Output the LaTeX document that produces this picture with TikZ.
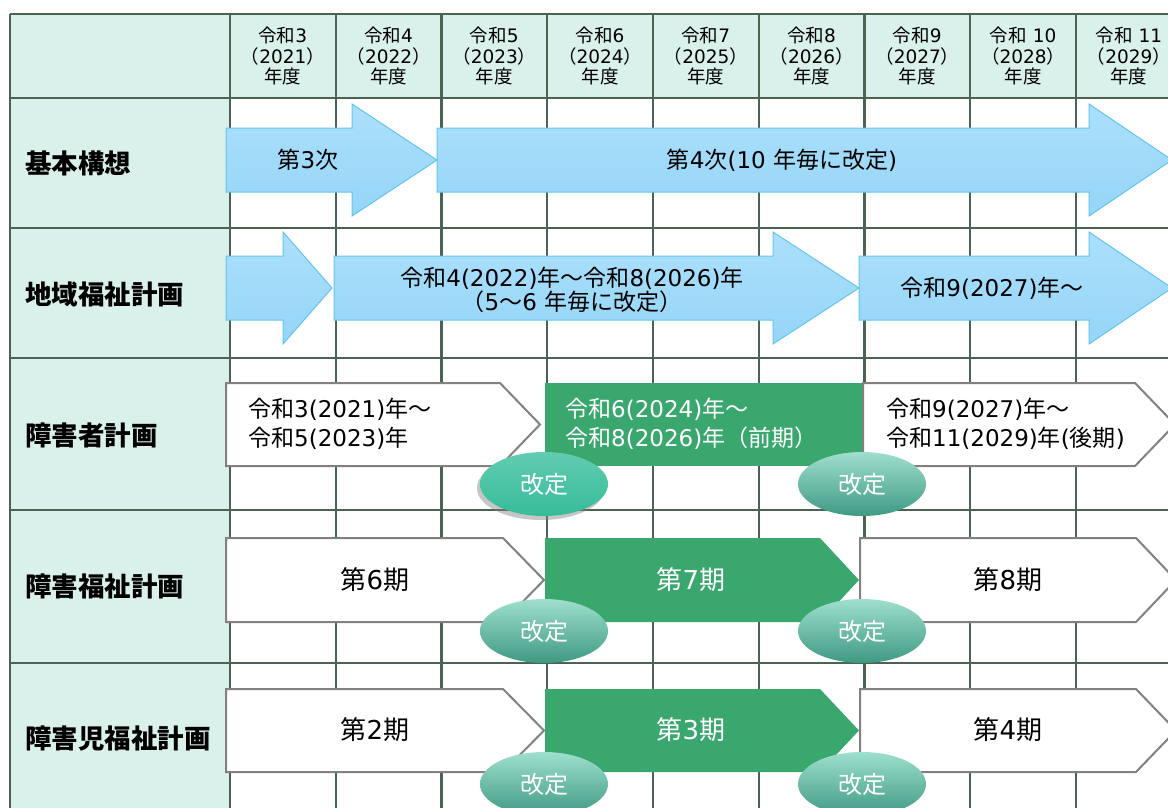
\documentclass[tikz,border=0pt]{standalone}
\usepackage{fontspec}
\setmainfont{Noto Sans CJK JP}
\newfontfamily\numf{DejaVu Sans}
\newcommand\nm[1]{{\numf #1}}
\usetikzlibrary{shapes.geometric,shadows}
\definecolor{mint}{HTML}{D9F1EA}
\definecolor{gridc}{HTML}{4A6352}
\definecolor{arrowtop}{HTML}{ACE0FB}
\definecolor{arrowbot}{HTML}{95D5F8}
\definecolor{arrowedge}{HTML}{62C4F0}
\definecolor{plangreen}{HTML}{3AA76F}
\definecolor{pentedge}{HTML}{858080}
\definecolor{elltop}{HTML}{9EDFCD}
\definecolor{ellmid}{HTML}{4FC8A8}
\definecolor{ellbot}{HTML}{3F9A83}
\definecolor{flattop}{HTML}{62CCB1}
\definecolor{flatbot}{HTML}{36BC99}
\tikzset{
  gridline/.style={draw=gridc, line width=2.2pt},
  barrow/.style={top color=arrowtop, bottom color=arrowbot, draw=arrowedge, line width=1pt, line join=miter},
  pent/.style={fill=white, draw=pentedge, line width=2pt, line join=miter},
  gshape/.style={fill=plangreen},
  kaitei/.style={ellipse, minimum width=128pt, minimum height=64pt, inner sep=0pt,
    top color=elltop, middle color=ellmid, bottom color=ellbot, text=white,
    font=\fontsize{24}{28}\selectfont},
  kaiteiflat/.style={kaitei, top color=flattop, middle color=ellmid, bottom color=flatbot,
    drop shadow={opacity=0.45, shadow xshift=-3pt, shadow yshift=-4pt}},
  lbl/.style={anchor=west, inner sep=0pt, font=\fontsize{26.5}{30}\selectfont\bfseries},
  hdr/.style={align=center, inner sep=0pt, font=\fontsize{18.5}{20.5}\selectfont},
  txt/.style={inner sep=0pt, font=\fontsize{23}{29}\selectfont},
  big/.style={inner sep=0pt, font=\fontsize{26}{30}\selectfont},
}
\begin{document}
\begin{tikzpicture}[x=1pt, y=-1pt]
\useasboundingbox (0,0) rectangle (1168,807);
\clip (0,0) rectangle (1168,807);
% backgrounds
\fill[mint] (10,14) rectangle (1190,98);
\fill[mint] (10,14) rectangle (230,820);
% grid
\foreach \yy in {14,98,228,358,510,663}
  \draw[gridline] (10,\yy) -- (1190,\yy);
\draw[gridline] (10,14) -- (10,820);
\foreach \i in {0,...,9}
  \draw[gridline] ({230+105.75*\i},14) -- ({230+105.75*\i},820);
% header
\foreach \n/\yr [count=\i from 0] in {3/2021,4/2022,5/2023,6/2024,7/2025,8/2026,9/2027,{ 10}/2028,{ 11}/2029}
  \node[hdr] (h\i) at ({230+105.75*(\i+0.5)},56) {令和\nm{\n}\\（\nm{\yr}）\\年度};
% row labels
\node[lbl] (l1) at (25,163) {基本構想};
\node[lbl] (l2) at (25,294) {地域福祉計画};
\node[lbl] (l3) at (25,435) {障害者計画};
\node[lbl] (l4) at (25,586) {障害福祉計画};
\node[lbl] (l5) at (25,739) {障害児福祉計画};
% row 1 arrows
\draw[barrow] (226,128) -- (352,128) -- (352,104) -- (437,160) -- (352,216) -- (352,192) -- (226,192) -- cycle;
\draw[barrow] (437,128) -- (1089,128) -- (1089,104) -- (1172,160) -- (1089,216) -- (1089,192) -- (437,192) -- cycle;
\node[txt] (a1) at (308,160) {第\nm{3}次};
\node[txt] (a2) at (782,160) {第\nm{4}次\nm{(10 }年毎に改定\nm{)}};
% row 2 arrows
\draw[barrow] (226,256) -- (283,256) -- (283,232) -- (332,288) -- (283,344) -- (283,320) -- (226,320) -- cycle;
\draw[barrow] (334,256) -- (773,256) -- (773,232) -- (859,288) -- (773,344) -- (773,320) -- (334,320) -- cycle;
\draw[barrow] (859,256) -- (1089,256) -- (1089,232) -- (1172,288) -- (1089,344) -- (1089,320) -- (859,320) -- cycle;
\node[txt, align=center, font=\fontsize{23}{24}\selectfont] (b1) at (572,290) {令和\nm{4(2022)}年～令和\nm{8(2026)}年\\（\nm{5}～\nm{6 }年毎に改定）};
\node[txt] (b2) at (992,288) {令和\nm{9(2027)}年～};
% row 3
\draw[pent] (226,383) -- (500,383) -- (540,424.5) -- (500,466) -- (226,466) -- cycle;
\fill[gshape] (545,383) rectangle (862,466);
\draw[pent] (863,383) -- (1135,383) -- (1175,424.5) -- (1135,466) -- (863,466) -- cycle;
\node[txt, anchor=west, align=left] (c1) at (248,424) {令和\nm{3(2021)}年～\\令和\nm{5(2023)}年};
\node[txt, anchor=west, align=left, text=white] (c2) at (565,424) {令和\nm{6(2024)}年～\\令和\nm{8(2026)}年（前期）};
\node[txt, anchor=west, align=left] (c3) at (886,424) {令和\nm{9(2027)}年～\\令和\nm{11(2029)}年\nm{(}後期\nm{)}};
% row 4
\draw[pent] (226,538) -- (503,538) -- (544,580) -- (503,622) -- (226,622) -- cycle;
\fill[gshape] (545,538) -- (820,538) -- (859,580) -- (820,622) -- (545,622) -- cycle;
\draw[pent] (860,538) -- (1136,538) -- (1176,580) -- (1136,622) -- (860,622) -- cycle;
\node[big] (d1) at (375,580) {第\nm{6}期};
\node[big, text=white] (d2) at (691,580) {第\nm{7}期};
\node[big] (d3) at (1008,580) {第\nm{8}期};
% row 5
\draw[pent] (226,689) -- (503,689) -- (544,730.5) -- (503,772) -- (226,772) -- cycle;
\fill[gshape] (545,689) -- (820,689) -- (859,730.5) -- (820,772) -- (545,772) -- cycle;
\draw[pent] (860,689) -- (1136,689) -- (1176,730.5) -- (1136,772) -- (860,772) -- cycle;
\node[big] (e1) at (375,730) {第\nm{2}期};
\node[big, text=white] (e2) at (691,730) {第\nm{3}期};
\node[big] (e3) at (1008,730) {第\nm{4}期};
% revision ellipses
\node[kaiteiflat] (k1) at (544,484) {改定};
\node[kaitei] (k2) at (862,484) {改定};
\node[kaitei] (k3) at (544,631) {改定};
\node[kaitei] (k4) at (862,631) {改定};
\node[kaitei] (k5) at (544,784) {改定};
\node[kaitei] (k6) at (862,784) {改定};
\end{tikzpicture}
\end{document}
